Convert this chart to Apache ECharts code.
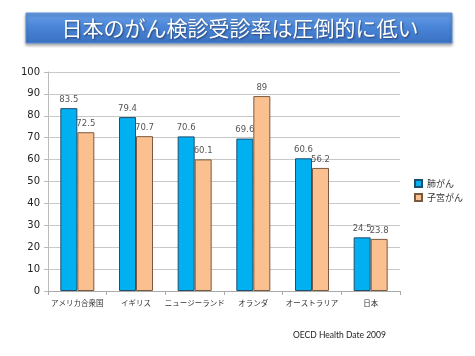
<!DOCTYPE html>
<html><head><meta charset="utf-8">
<script src="https://cdn.jsdelivr.net/npm/echarts@6/dist/echarts.min.js"></script>
<style>html,body{margin:0;padding:0;background:#fff}#c{width:475px;height:356px}</style>
</head><body><div id="c"></div>
<script>
const titleText = '日本のがん検診受診率は圧倒的に低い';
const categories = ['アメリカ合衆国','イギリス','ニュージーランド','オランダ','オーストラリア','日本'];
const seriesNames = ['肺がん','子宮がん'];
const lungValues = [83.5, 79.4, 70.6, 69.6, 60.6, 24.5];
const uterineValues = [72.5, 70.7, 60.1, 89, 56.2, 23.8];
const yTicks = [0,10,20,30,40,50,60,70,80,90,100];
const sourceText = 'OECD Health Date 2009';

const font = '"Noto Sans CJK JP", sans-serif';
const chart = echarts.init(document.getElementById('c'), null, {renderer:'canvas'});
chart.setOption({
  backgroundColor:'#fff',
  animation:false,
  textStyle:{fontFamily:font},
  graphic:[
    {type:'rect', shape:{x:26,y:13,width:426,height:30},
     style:{fill:new echarts.graphic.LinearGradient(0,0,0,1,[{offset:0,color:'#6a9fe6'},{offset:0.45,color:'#4a86d8'},{offset:1,color:'#3a70c2'}]),
       stroke:'#5a8fd8', lineWidth:1, shadowBlur:3, shadowColor:'rgba(0,0,0,0.35)', shadowOffsetY:2}},
    {type:'text', x:240, y:28.5, style:{text:titleText, fill:'#fff', font:'21px "Noto Sans CJK JP", sans-serif',
      textAlign:'center', textVerticalAlign:'middle', textShadowColor:'rgba(0,0,0,0.45)', textShadowBlur:2, textShadowOffsetX:1, textShadowOffsetY:1}},
    {type:'text', left:293, top:331, style:{text:sourceText, fill:'#222', font:'8.5px Lato, sans-serif'}}
  ],
  legend:{
    orient:'vertical', left:409, top:174, itemWidth:7, itemHeight:7, itemGap:5,
    icon:'rect',
    textStyle:{fontSize:9, color:'#333', fontFamily:font},
    data:seriesNames
  },
  grid:{left:48, right:75, top:72, bottom:65},
  xAxis:{
    type:'category', data:categories,
    axisLine:{lineStyle:{color:'#aaa'}},
    axisTick:{show:true, length:4, lineStyle:{color:'#aaa'}},
    axisLabel:{fontSize:7.5, color:'#333', margin:8, interval:0, fontFamily:font}
  },
  yAxis:{
    type:'value', min:yTicks[0], max:yTicks[yTicks.length-1], interval:10,
    axisLine:{show:true, lineStyle:{color:'#bbb'}},
    axisTick:{show:true, length:4, lineStyle:{color:'#bbb'}},
    axisLabel:{fontSize:10, color:'#222', margin:8, fontFamily:'"DejaVu Sans", sans-serif'},
    splitLine:{lineStyle:{color:'#c8c8c8', width:1}}
  },
  series:[
    {name:seriesNames[0], type:'bar', data:lungValues, barWidth:17, barGap:'0%',
     itemStyle:{color:'#00b0f0', borderColor:'#1f4e6e', borderWidth:1},
     label:{show:true, position:'top', distance:4, fontSize:8.5, color:'#555', fontFamily:'"DejaVu Sans", sans-serif'}},
    {name:seriesNames[1], type:'bar', data:uterineValues, barWidth:17, barGap:'0%',
     itemStyle:{color:'#fac090', borderColor:'#7a5a3e', borderWidth:1},
     label:{show:true, position:'top', distance:4, fontSize:8.5, color:'#555', fontFamily:'"DejaVu Sans", sans-serif'}}
  ]
});
</script></body></html>
